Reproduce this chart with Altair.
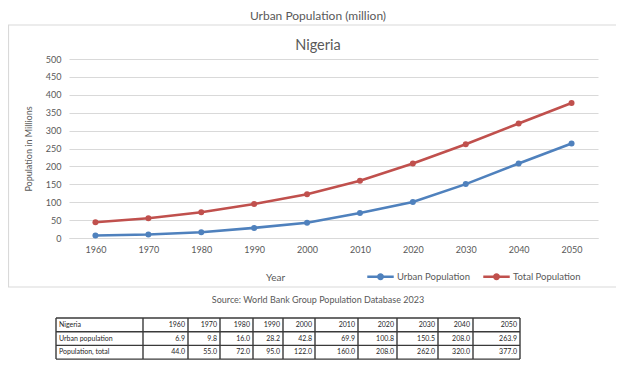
import altair as alt
import pandas as pd

# ---------------- data ----------------
years = [1960, 1970, 1980, 1990, 2000, 2010, 2020, 2030, 2040, 2050]
urban_population = [6.9, 9.8, 16.0, 28.2, 42.8, 69.9, 100.8, 150.5, 208.0, 263.9]
total_population = [44.0, 55.0, 72.0, 95.0, 122.0, 160.0, 208.0, 262.0, 320.0, 377.0]
series_names = ["Urban Population", "Total Population"]
series_colors = ["#4F81BD", "#C0504D"]
y_ticks = [0, 50, 100, 150, 200, 250, 300, 350, 400, 450, 500]
table_row_labels = ["Nigeria", "Urban population", "Population, total"]
chart_title = "Urban Population (million)"
panel_title = "Nigeria"
source_note = "Source: World Bank Group Population Database 2023"

# ---------------- layout ----------------
W, H = 529, 179
FONT = "Lato"
GRAY = "#595959"
col_widths = [87, 45, 32, 33, 30, 32, 43, 39, 41, 35, 47]  # table column widths (px)
table_left, table_top, row_h = -13, 259, 13.7

# ---------------- main line chart ----------------
long = pd.DataFrame({
    "Year": years * 2,
    "Series": [series_names[0]] * len(years) + [series_names[1]] * len(years),
    "Value": urban_population + total_population,
})

legend_path = "M-1,0H1M-0.17,0A0.17,0.17,0,1,0,0.17,0A0.17,0.17,0,1,0,-0.17,0Z"

lines = alt.Chart(long).mark_line(
    strokeWidth=2.6,
    point=alt.OverlayMarkDef(filled=True, size=36),
).encode(
    x=alt.X("Year:O", scale=alt.Scale(type="point", padding=0.5),
            axis=alt.Axis(title="Year", labelAngle=0, ticks=False, domain=True,
                          domainColor="#d9d9d9", labelPadding=7, labelFontSize=9,
                          labelColor=GRAY, labelFont=FONT, titleFont=FONT,
                          titleFontSize=10, titleFontWeight="normal", titleColor=GRAY,
                          titleX=206, titleY=39, titleBaseline="middle", grid=False)),
    y=alt.Y("Value:Q", scale=alt.Scale(domain=[0, 500], nice=False),
            axis=alt.Axis(title="Population in Millions", values=y_ticks, ticks=False,
                          domain=False, gridColor="#d9d9d9", labelPadding=8,
                          labelFontSize=9, labelColor=GRAY, labelFont=FONT,
                          titleFont=FONT, titleFontSize=9, titleFontWeight="normal",
                          titleColor=GRAY, titleX=-36, titleY=89.5, titleAlign="center")),
    color=alt.Color("Series:N",
                    scale=alt.Scale(domain=series_names, range=series_colors),
                    legend=alt.Legend(title=None, orient="none", direction="horizontal",
                                      legendX=297, legendY=203, symbolType=legend_path,
                                      symbolSize=700, symbolStrokeWidth=2.4,
                                      labelFont=FONT, labelFontSize=9.5, labelColor=GRAY,
                                      labelOffset=2, columnPadding=8)),
)

# ---------------- annotations ----------------
frame = alt.Chart(pd.DataFrame({"k": [0]})).mark_rect(
    fill=None, stroke="#d9d9d9", strokeWidth=1.2
).encode(x=alt.value(-60.5), x2=alt.value(600), y=alt.value(-34), y2=alt.value(228))

def label(text, x, y, size, color=GRAY):
    return alt.Chart(pd.DataFrame({"t": [text]})).mark_text(
        font=FONT, fontSize=size, color=color, align="center", baseline="middle"
    ).encode(text="t:N", x=alt.value(x), y=alt.value(y))

title_t = label(chart_title, 249, -43.5, 12)
panel_t = label(panel_title, 249, -13, 14.5)
source_t = label(source_note, 249, 241, 9)

main = alt.layer(frame, lines, title_t, panel_t, source_t)

# ---------------- table ----------------
edges = [0]
for w in col_widths:
    edges.append(edges[-1] + w)
total_w = edges[-1]
n_rows = len(table_row_labels)

tx = alt.Scale(domain=[0, total_w], range=[table_left, table_left + total_w], nice=False, zero=False)
ty = alt.Scale(domain=[0, n_rows], range=[table_top, table_top + n_rows * row_h], nice=False, zero=False)

hr = pd.DataFrame({"x": [0] * (n_rows + 1), "x2": [total_w] * (n_rows + 1),
                   "y": list(range(n_rows + 1))})
vr = pd.DataFrame({"x": edges, "y": [0] * len(edges), "y2": [n_rows] * len(edges)})

h_rules = alt.Chart(hr).mark_rule(color="#3a3a3a", strokeWidth=1.4).encode(
    x=alt.X("x:Q", scale=tx, axis=None), x2="x2:Q",
    y=alt.Y("y:Q", scale=ty, axis=None))
v_rules = alt.Chart(vr).mark_rule(color="#3a3a3a", strokeWidth=1.4).encode(
    x=alt.X("x:Q", scale=tx, axis=None),
    y=alt.Y("y:Q", scale=ty, axis=None), y2="y2:Q")

row_values = [[str(y) for y in years],
              [f"{v:.1f}" for v in urban_population],
              [f"{v:.1f}" for v in total_population]]

lab_df = pd.DataFrame({"x": [edges[0] + 3] * n_rows,
                       "y": [r + 0.5 for r in range(n_rows)],
                       "t": table_row_labels})
num_rows = []
for r in range(n_rows):
    for c, txt in enumerate(row_values[r]):
        num_rows.append({"x": edges[c + 2] - 3, "y": r + 0.5, "t": txt})
num_df = pd.DataFrame(num_rows)

lab_text = alt.Chart(lab_df).mark_text(font=FONT, fontSize=7, color="#262626",
                                       align="left", baseline="middle").encode(
    x=alt.X("x:Q", scale=tx, axis=None), y=alt.Y("y:Q", scale=ty, axis=None), text="t:N")
num_text = alt.Chart(num_df).mark_text(font=FONT, fontSize=7, color="#262626",
                                       align="right", baseline="middle").encode(
    x=alt.X("x:Q", scale=tx, axis=None), y=alt.Y("y:Q", scale=ty, axis=None), text="t:N")

table = alt.layer(h_rules, v_rules, lab_text, num_text)

chart = alt.layer(main, table).resolve_scale(x="independent", y="independent").properties(
    width=W, height=H,
    autosize=alt.AutoSizeParams(type="none"),
    padding={"left": 61, "top": 51, "right": 18, "bottom": 134},
    background="white",
).configure_view(stroke=None)

chart.save("out.html", embed_options={"renderer": "svg", "actions": False})
